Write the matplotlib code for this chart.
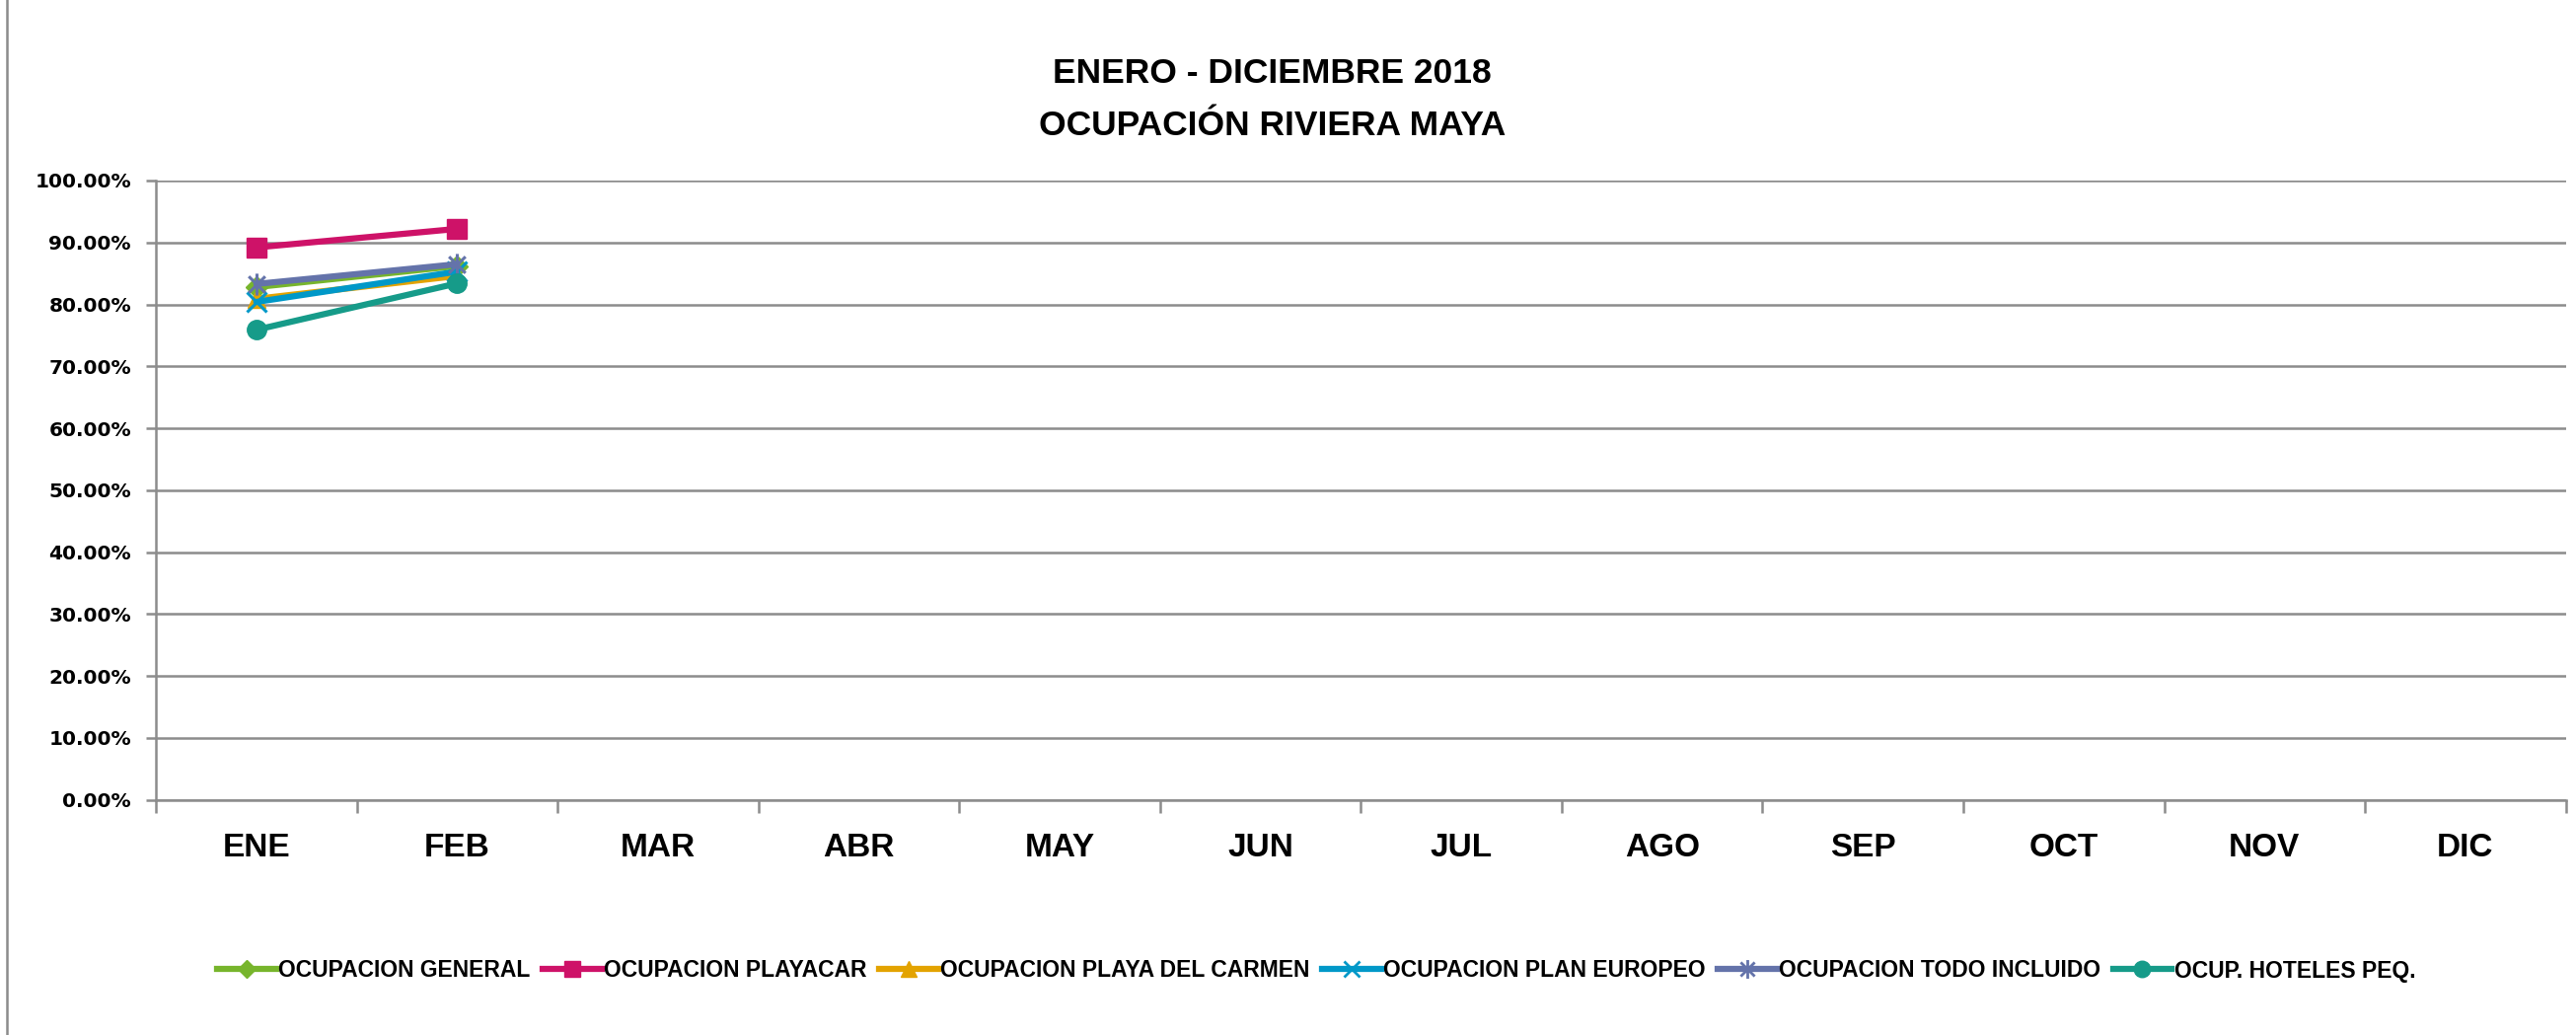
import numpy as np
import matplotlib
matplotlib.use("Agg")
import matplotlib.pyplot as plt
from matplotlib.ticker import FixedLocator, PercentFormatter
from matplotlib.lines import Line2D
from matplotlib.path import Path

# ---- data ----
months = ["ENE", "FEB", "MAR", "ABR", "MAY", "JUN", "JUL", "AGO", "SEP", "OCT", "NOV", "DIC"]
ocup_general = [82.8, 86.2]
ocup_playacar = [89.2, 92.2]
ocup_playa_carmen = [80.9, 84.6]
ocup_plan_europeo = [80.4, 85.3]
ocup_todo_incluido = [83.3, 86.5]
ocup_hoteles_peq = [75.9, 83.4]

series_names = ["OCUPACION GENERAL", "OCUPACION PLAYACAR", "OCUPACION PLAYA DEL CARMEN",
                "OCUPACION PLAN EUROPEO", "OCUPACION TODO INCLUIDO", "OCUP. HOTELES PEQ."]
series_values = [ocup_general, ocup_playacar, ocup_playa_carmen,
                 ocup_plan_europeo, ocup_todo_incluido, ocup_hoteles_peq]
y_ticks = [0, 10, 20, 30, 40, 50, 60, 70, 80, 90, 100]
title_lines = ["ENERO - DICIEMBRE 2018", "OCUPACIÓN RIVIERA MAYA"]

# ---- styles ----
star = Path([(0, -1), (0, 1), (-0.75, -0.75), (0.75, 0.75), (-0.75, 0.75), (0.75, -0.75)],
            [Path.MOVETO, Path.LINETO, Path.MOVETO, Path.LINETO, Path.MOVETO, Path.LINETO])
colors = ["#77B52C", "#CE1268", "#E3A300", "#0098C8", "#6473AA", "#169B89"]
markers = ["D", "s", "^", "x", star, "o"]
msizes = [11, 14, 13, 14, 16, 14]
thin = [False, False, False, True, True, False]

NARROW = ["Liberation Sans Narrow", "Liberation Sans", "DejaVu Sans"]

W, H = 2611, 1049
fig = plt.figure(figsize=(W / 100, H / 100), dpi=100)
x0, x1, ytop, ybot = 158, 2600.7, 183, 810.7
ax = fig.add_axes([x0 / W, 1 - ybot / H, (x1 - x0) / W, (ybot - ytop) / H])

grid_col = "#8C8C8C"
for i, (name, vals) in enumerate(zip(series_names, series_values)):
    xs = np.arange(len(vals))
    ax.plot(xs, vals, color=colors[i], lw=4.5, marker=markers[i], ms=msizes[i],
            mec=colors[i], mfc=colors[i], mew=2.2 if thin[i] else 1,
            label=name, solid_capstyle="round", zorder=3 + i)

ax.set_xlim(-0.5, len(months) - 0.5)
ax.set_ylim(0, 100)
ax.yaxis.set_major_locator(FixedLocator(y_ticks))
ax.yaxis.set_major_formatter(PercentFormatter(decimals=2))
ax.grid(axis="y", color=grid_col, lw=1.8)
ax.set_axisbelow(True)

ax.set_xticks(np.arange(len(months)))
ax.set_xticklabels(months, family=NARROW, fontweight="bold", fontsize=24)
ax.set_xticks(np.arange(-0.5, len(months)), minor=True)
ax.tick_params(axis="x", which="major", length=0, pad=24)
ax.tick_params(axis="x", which="minor", length=9, width=1.8, color=grid_col)
ax.tick_params(axis="y", length=7, width=1.8, color=grid_col, pad=11, labelsize=14.5)
for lab in ax.get_yticklabels():
    lab.set_fontweight("bold")
    lab.set_family("DejaVu Sans")

for s in ["top", "right"]:
    ax.spines[s].set_visible(False)
for s in ["left", "bottom"]:
    ax.spines[s].set_color(grid_col)
    ax.spines[s].set_linewidth(1.8)

# Title
fig.text(0.494, 1 - 84 / H, title_lines[0], ha="center", va="baseline",
         family=NARROW, fontweight="bold", fontsize=25.5)
fig.text(0.494, 1 - 137 / H, title_lines[1], ha="center", va="baseline",
         family=NARROW, fontweight="bold", fontsize=25.5)

# Legend
handles = [Line2D([0], [0], color=colors[i], lw=4.5, marker=markers[i], ms=msizes[i] * 0.85,
                  mec=colors[i], mfc=colors[i], mew=2 if thin[i] else 1)
           for i in range(len(series_names))]
fig.legend(handles, series_names, loc="center", bbox_to_anchor=(0.511, 1 - 984 / H),
           ncol=6, frameon=False, prop={"family": NARROW, "weight": "bold", "size": 16.5},
           handlelength=2.6, handletextpad=0.1, columnspacing=0.55, numpoints=1)

# chart border (left edge)
fig.add_artist(Line2D([7 / W, 7 / W], [0, 1], color="#8C8C8C", lw=1.8, transform=fig.transFigure))

fig.savefig("out.png", dpi=100, facecolor="white")
